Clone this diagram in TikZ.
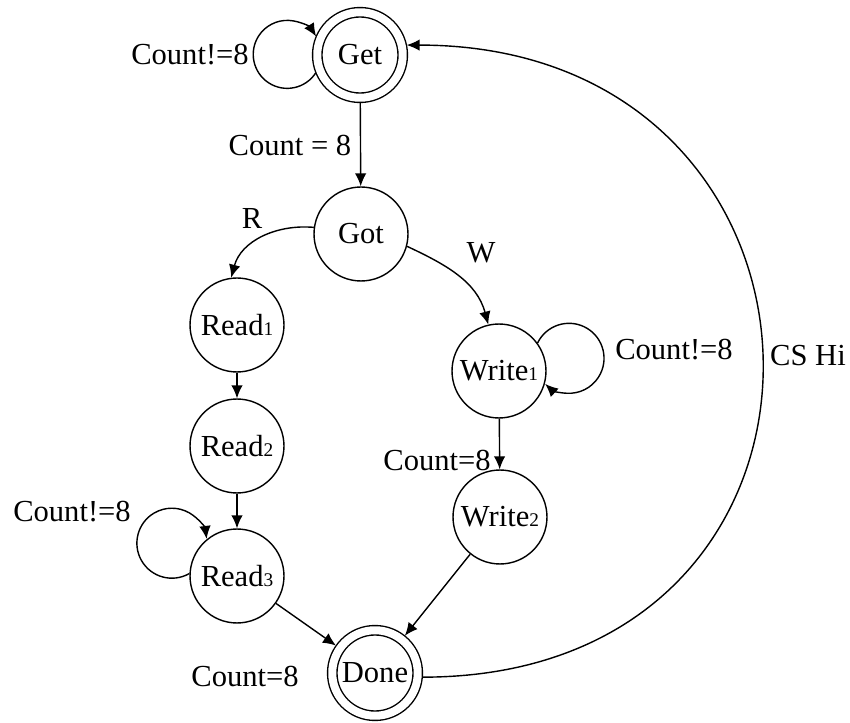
\documentclass[tikz,border=0pt]{standalone}
\usepackage{fontspec}
\setmainfont{Liberation Serif}
\usepackage{tikz}
\usetikzlibrary{arrows.meta}

\newcommand{\idx}[1]{{\fontsize{11}{11}\selectfont #1}}

\begin{document}
\fontsize{17.4}{20}\selectfont
\begin{tikzpicture}[x=0.02cm, y=-0.02cm, thick, >={Latex[length=2.6mm,width=2.3mm]}]
    \tikzstyle{state} = [circle, draw, inner sep=0pt, minimum size=1.88cm]
    \tikzstyle{final} = [circle, draw, double, double distance=0.16cm, inner sep=0pt, minimum size=1.71cm, outer sep=0.1cm]
    \tikzstyle{lbl} = [inner sep=0pt]
    \useasboundingbox (0,0) rectangle (850,723);
    % states
    \node[final] (get) at (360,55) {Get};
    \node[state] (got) at (361,234) {Got};
    \node[state] (read1) at (237,325) {Read\idx{1}};
    \node[state] (read2) at (237,446) {Read\idx{2}};
    \node[state] (read3) at (237,576) {Read\idx{3}};
    \node[state] (write1) at (499,371) {Write\idx{1}};
    \node[state] (write2) at (500,517) {Write\idx{2}};
    \node[final] (done) at (375,673) {Done};
    % transitions
    \draw[->] (get.202) arc[start angle=-33, delta angle=-295, radius=0.68cm];
    \draw[->] (get) -- (got);
    \draw[->] (got.172) to[out=175, in=75] (read1.97);
    \draw[->] (got.-15) to[out=-25, in=105] (write1.103);
    \draw[->] (read1) -- (read2);
    \draw[->] (read2) -- (read3);
    \draw[->] (read3.177) arc[start angle=-60, delta angle=-293, radius=0.70cm];
    \draw[->] (write1) -- (write2);
    \draw[->] (write1.36) arc[start angle=154, delta angle=-287, radius=0.70cm];
    \draw[->] (read3) -- (done);
    \draw[->] (write2) -- (done);
    \draw[->] (done.-5) to[out=0, in=0, looseness=1.87] (get.12);
    % labels
    \node[lbl] (l1) at (190,55) {Count!=8};
    \node[lbl] (l2) at (290,145) {Count = 8};
    \node[lbl] (l3) at (252,218) {R};
    \node[lbl] (l4) at (481,253) {W};
    \node[lbl] (l5) at (674,350) {Count!=8};
    \node[lbl] (l6) at (808,356) {CS Hi};
    \node[lbl] (l7) at (437,460) {Count=8};
    \node[lbl] (l8) at (72,512) {Count!=8};
    \node[lbl] (l9) at (245,676) {Count=8};
\end{tikzpicture}
\end{document}
